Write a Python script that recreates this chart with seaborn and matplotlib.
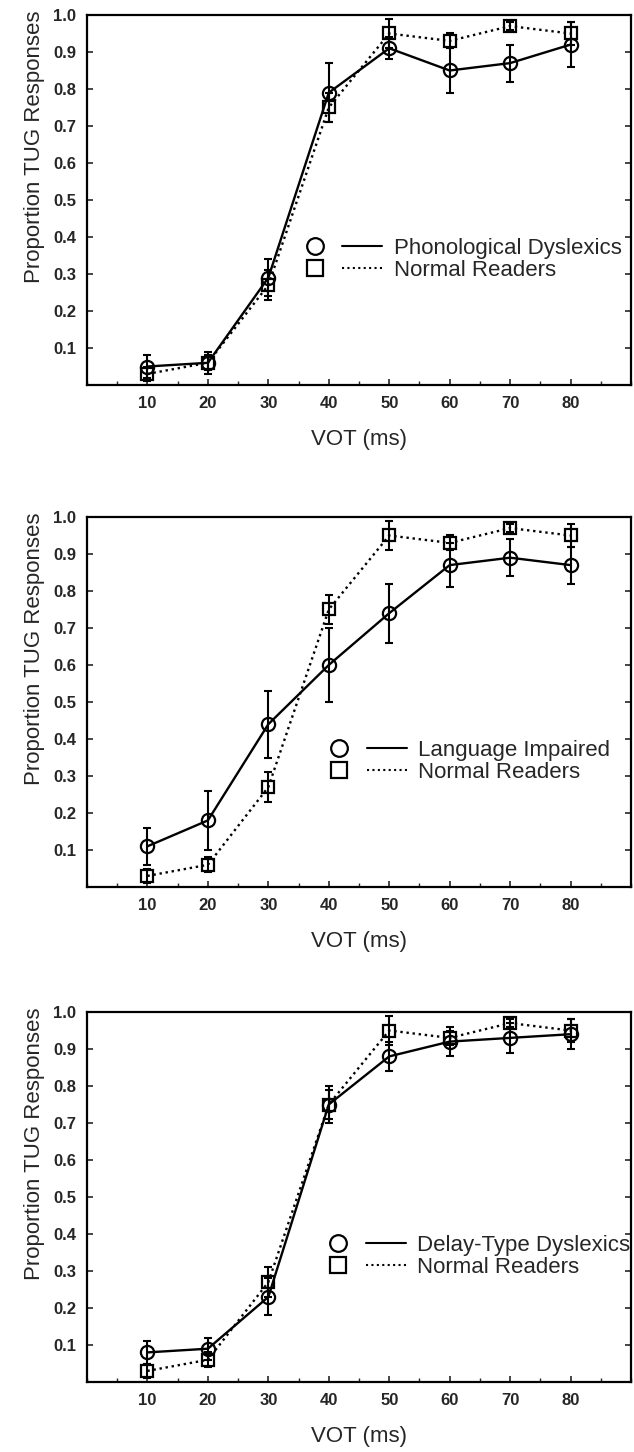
import matplotlib
matplotlib.use("Agg")
import matplotlib.pyplot as plt
from matplotlib.lines import Line2D
from matplotlib.legend_handler import HandlerTuple
from matplotlib.ticker import MultipleLocator, FixedLocator
import seaborn as sns

# ---- data ----
vot = [10, 20, 30, 40, 50, 60, 70, 80]

normal_mean = [0.03, 0.06, 0.27, 0.75, 0.95, 0.93, 0.97, 0.95]
normal_err = [0.02, 0.02, 0.04, 0.04, 0.04, 0.02, 0.01, 0.03]

phon_mean = [0.05, 0.06, 0.29, 0.79, 0.91, 0.85, 0.87, 0.92]
phon_err = [0.03, 0.03, 0.05, 0.08, 0.03, 0.06, 0.05, 0.06]

lang_mean = [0.11, 0.18, 0.44, 0.60, 0.74, 0.87, 0.89, 0.87]
lang_err = [0.05, 0.08, 0.09, 0.10, 0.08, 0.06, 0.05, 0.05]

delay_mean = [0.08, 0.09, 0.23, 0.75, 0.88, 0.92, 0.93, 0.94]
delay_err = [0.03, 0.03, 0.05, 0.05, 0.04, 0.04, 0.04, 0.04]

group_labels = ["Phonological Dyslexics", "Language Impaired", "Delay-Type Dyslexics"]
normal_label = "Normal Readers"
y_ticks = [0.1, 0.2, 0.3, 0.4, 0.5, 0.6, 0.7, 0.8, 0.9, 1.0]
y_ticklabels = ["0.1", "0.2", "0.3", "0.4", "0.5", "0.6", "0.7", "0.8", "0.9", "1.0"]
x_ticks = [10, 20, 30, 40, 50, 60, 70, 80]
x_label = "VOT (ms)"
y_label = "Proportion TUG Responses"

groups = [(phon_mean, phon_err), (lang_mean, lang_err), (delay_mean, delay_err)]

sns.set_style("ticks")
plt.rcParams['font.family'] = ['Liberation Sans', 'DejaVu Sans']

fig = plt.figure(figsize=(6.34, 14.52), dpi=100)
W, H = 634, 1452
left_px, right_px = 87, 631
panel_h = 370
tops = [15, 517, 1012]
legend_x = [0.382, 0.427, 0.425]

dot_style = (0, (1, 1.6))
lw = 1.7

for i, top in enumerate(tops):
    ax = fig.add_axes([left_px / W, 1 - (top + panel_h) / H,
                       (right_px - left_px) / W, panel_h / H])
    gmean, gerr = groups[i]

    # normal readers (dotted, squares)
    ax.errorbar(vot, normal_mean, yerr=normal_err, fmt='none', ecolor='black',
                elinewidth=1.5, capsize=2.8, capthick=1.5, zorder=2)
    sns.lineplot(x=vot, y=normal_mean, ax=ax, color='black', linestyle=dot_style,
                 linewidth=lw, marker='s', markersize=8.5, markerfacecolor='none',
                 markeredgecolor='black', markeredgewidth=1.6, zorder=3)
    # group (solid, circles)
    ax.errorbar(vot, gmean, yerr=gerr, fmt='none', ecolor='black',
                elinewidth=1.5, capsize=2.8, capthick=1.5, zorder=4)
    sns.lineplot(x=vot, y=gmean, ax=ax, color='black', linestyle='-',
                 linewidth=lw, marker='o', markersize=9.5, markerfacecolor='none',
                 markeredgecolor='black', markeredgewidth=1.6, zorder=5)

    ax.set_xlim(0, 90)
    ax.set_ylim(0, 1.0)
    ax.xaxis.set_major_locator(FixedLocator(x_ticks))
    ax.xaxis.set_minor_locator(MultipleLocator(5))
    ax.set_yticks(y_ticks)
    ax.set_yticklabels(y_ticklabels)
    ax.tick_params(axis='both', which='major', direction='in', length=4, width=1.2,
                   labelsize=12, right=True, pad=8)
    ax.tick_params(axis='x', which='minor', direction='in', length=3, width=1.0)
    for lab in ax.get_xticklabels() + ax.get_yticklabels():
        lab.set_fontweight('bold')
    for sp in ax.spines.values():
        sp.set_visible(True)
        sp.set_linewidth(1.6)
        sp.set_color('black')

    ax.set_xlabel(x_label, fontsize=16, labelpad=13)
    ax.set_ylabel(y_label, fontsize=16)
    ax.yaxis.set_label_coords(-0.077, 0.645)

    # legend
    h_circ = Line2D([], [], marker='o', ls='none', mfc='none', mec='black',
                    mew=1.6, ms=12)
    h_solid = Line2D([], [], ls='-', color='black', lw=1.5)
    h_sq = Line2D([], [], marker='s', ls='none', mfc='none', mec='black',
                  mew=1.6, ms=11)
    h_dot = Line2D([], [], ls=dot_style, color='black', lw=1.5)
    ax.legend([(h_circ, h_solid), (h_sq, h_dot)], [group_labels[i], normal_label],
              handler_map={tuple: HandlerTuple(ndivide=None, pad=0.34)},
              loc='center left', bbox_to_anchor=(legend_x[i], 0.34),
              frameon=False, borderpad=0, borderaxespad=0, fontsize=16,
              handlelength=3.94, handletextpad=0.51, labelspacing=0.05)

fig.savefig("out.png", dpi=100)
